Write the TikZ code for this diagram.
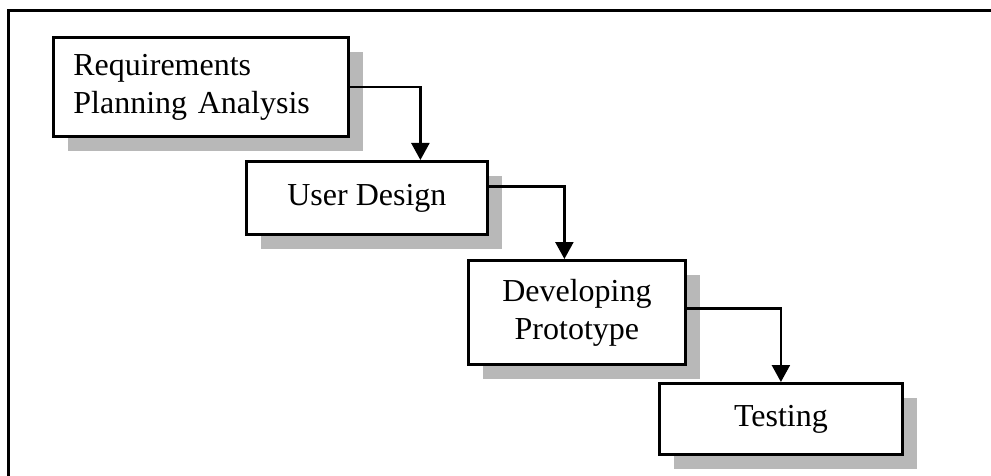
\documentclass[tikz,border=0pt]{standalone}
\usepackage{fontspec}
\setmainfont{Liberation Serif}
\usetikzlibrary{shadows,arrows.meta}
\tikzset{
  stagebox/.style={draw=black, line width=2.8pt, fill=white, anchor=north west,
    inner sep=0pt, font=\fontsize{32}{38}\selectfont, align=center,
    drop shadow={shadow xshift=15pt, shadow yshift=-15pt, fill=black!28, opacity=1, draw=none}},
  flow/.style={line width=2.4pt, -{Triangle[width=18pt,length=17pt]}},
}
\begin{document}
\begin{tikzpicture}[x=1pt,y=-1pt]
\useasboundingbox (0,0) rectangle (991,476);
\draw[line width=3pt] (8,490) -- (8,11) -- (1000,11);
\node[stagebox, minimum width=295pt, minimum height=99pt, text width=255pt, align=left] (b1) at (52,36) {Requirements\\Planning Analysis};
\node[stagebox, minimum width=241pt, minimum height=73pt] (b2) at (245,160) {User Design};
\node[stagebox, minimum width=217pt, minimum height=104pt] (b3) at (467,259) {Developing\\Prototype};
\node[stagebox, minimum width=243pt, minimum height=71pt] (b4) at (658,382) {Testing};
\draw[flow] (b1.east) -| ([xshift=53.5pt]b2.north);
\draw[flow] ([yshift=11.5pt]b2.east) -| ([xshift=-12.5pt]b3.north);
\draw[flow] ([yshift=4pt]b3.east) -| (b4.north);
\end{tikzpicture}
\end{document}
